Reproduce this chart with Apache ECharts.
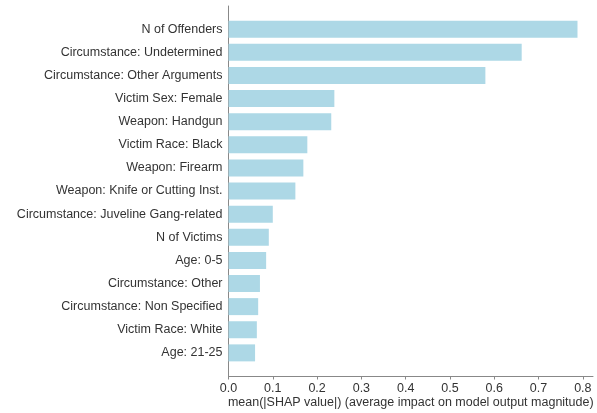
<!DOCTYPE html>
<html>
<head>
<meta charset="utf-8">
<script src="https://cdn.jsdelivr.net/npm/echarts@6/dist/echarts.min.js"></script>
<style>html,body{margin:0;padding:0;background:#fff}#c{width:597px;height:413px}</style>
</head>
<body>
<div id="c"></div>
<script>
const categories = [
  'N of Offenders',
  'Circumstance: Undetermined',
  'Circumstance: Other Arguments',
  'Victim Sex: Female',
  'Weapon: Handgun',
  'Victim Race: Black',
  'Weapon: Firearm',
  'Weapon: Knife or Cutting Inst.',
  'Circumstance: Juveline Gang-related',
  'N of Victims',
  'Age: 0-5',
  'Circumstance: Other',
  'Circumstance: Non Specified',
  'Victim Race: White',
  'Age: 21-25'
];
const values = [0.788, 0.662, 0.580, 0.239, 0.232, 0.178, 0.169, 0.151, 0.100, 0.091, 0.085, 0.071, 0.067, 0.064, 0.060];
const xTicks = [0, 0.1, 0.2, 0.3, 0.4, 0.5, 0.6, 0.7, 0.8];

// pad the category axis with one empty slot at each end (axis margins)
const axisCats = [''].concat(categories, ['']);
const axisData = [null].concat(values, [null]);

const chart = echarts.init(document.getElementById('c'), null, {renderer: 'canvas'});
const font = 'Liberation Sans, Arial, sans-serif';
chart.setOption({
  animation: false,
  grid: {left: 228.5, right: 4, top: 6, bottom: 37, containLabel: false, outerBoundsMode: 'none'},
  xAxis: {
    type: 'value', min: 0, max: 0.823,
    name: 'mean(|SHAP value|) (average impact on model output magnitude)',
    nameLocation: 'middle', nameGap: 20, nameMoveOverlap: false,
    nameTextStyle: {color: '#333', fontSize: 12.5, fontFamily: font},
    axisLine: {show: true, lineStyle: {color: '#888', width: 1}},
    axisTick: {show: true, length: 3.5, customValues: xTicks, lineStyle: {color: '#888'}},
    axisLabel: {customValues: xTicks, color: '#333', fontSize: 12.5, fontFamily: font, margin: 6,
      formatter: v => v.toFixed(1)},
    splitLine: {show: false}
  },
  yAxis: {
    type: 'category', inverse: true, boundaryGap: false,
    data: axisCats,
    axisLine: {show: true, lineStyle: {color: '#888', width: 1}},
    axisTick: {show: false},
    axisLabel: {color: '#333', fontSize: 12.5, fontFamily: font, margin: 6, interval: 0},
    splitLine: {show: false}
  },
  series: [{
    type: 'bar',
    data: axisData,
    barWidth: 17,
    itemStyle: {color: '#ADD8E6'},
    silent: true
  }]
});
</script>
</body>
</html>
